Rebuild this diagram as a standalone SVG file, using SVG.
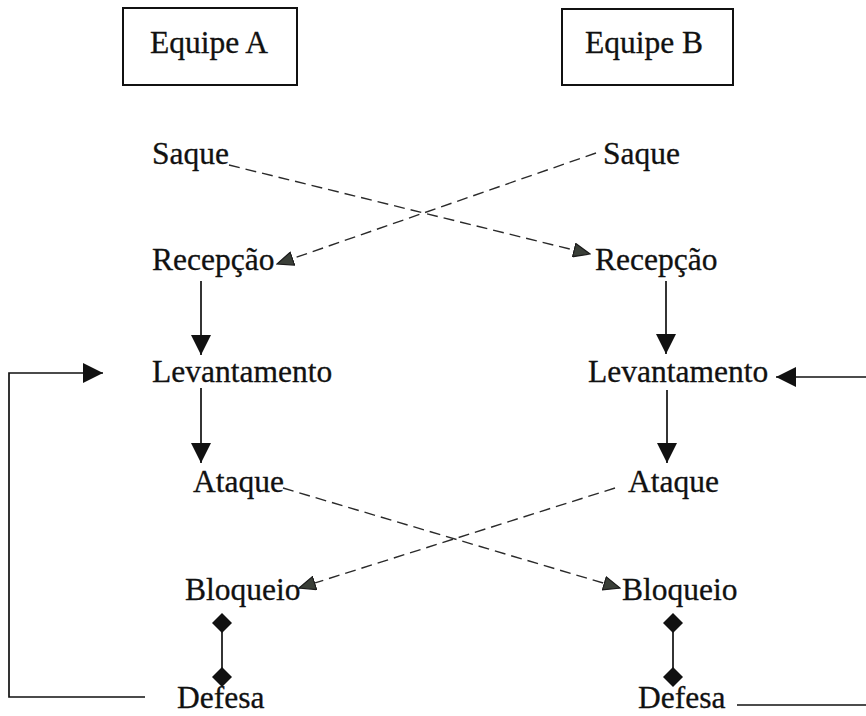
<svg xmlns="http://www.w3.org/2000/svg" width="866" height="716" viewBox="0 0 866 716">
<style>
text{font-family:"Liberation Serif","Times New Roman",serif;font-size:31.5px;fill:#111;stroke:#111;stroke-width:0.3}
.box{fill:#fff;stroke:#111;stroke-width:2}
.solid{stroke:#111;stroke-width:1.7;fill:none}
.dash{stroke:#2a2a2a;stroke-width:1.4;fill:none;stroke-dasharray:11 6}
</style>
<defs>
<marker id="arr" markerUnits="userSpaceOnUse" markerWidth="20" markerHeight="20" refX="20" refY="10" orient="auto"><path d="M0,0 L20,10 L0,20 z" fill="#111"/></marker>
<marker id="darr" markerUnits="userSpaceOnUse" markerWidth="18" markerHeight="15" refX="17" refY="7.5" orient="auto"><path d="M0.7,0.7 L17,7.5 L0.7,14.3 z" fill="#3a3f38" stroke="#1a1a1a" stroke-width="1.2"/></marker>
<marker id="dia" markerUnits="userSpaceOnUse" markerWidth="20" markerHeight="20" refX="10" refY="10" orient="auto"><path d="M0,10 L10,0 L20,10 L10,20 z" fill="#111"/></marker>
</defs>
<rect width="866" height="716" fill="#fff"/>
<g id="connectors">
<line class="dash" x1="229" y1="165" x2="590" y2="254" marker-end="url(#darr)"/>
<line class="dash" x1="596" y1="153" x2="277" y2="264" marker-end="url(#darr)"/>
<line class="dash" x1="283" y1="488" x2="620" y2="588" marker-end="url(#darr)"/>
<line class="dash" x1="615" y1="488" x2="299" y2="588" marker-end="url(#darr)"/>
<line class="solid" x1="201" y1="281" x2="201" y2="355" marker-end="url(#arr)"/>
<line class="solid" x1="201" y1="388" x2="201" y2="463" marker-end="url(#arr)"/>
<line class="solid" x1="666" y1="281" x2="666" y2="354" marker-end="url(#arr)"/>
<line class="solid" x1="667" y1="390" x2="667" y2="463" marker-end="url(#arr)"/>
<line class="solid" x1="222" y1="623" x2="222" y2="677" marker-start="url(#dia)" marker-end="url(#dia)"/>
<line class="solid" x1="673" y1="623" x2="673" y2="677" marker-start="url(#dia)" marker-end="url(#dia)"/>
<polyline class="solid" points="145,697 9,697 9,373 103,373" marker-end="url(#arr)"/>
<line class="solid" x1="866" y1="377" x2="776" y2="377" marker-end="url(#arr)"/>
<line class="solid" x1="737" y1="705" x2="866" y2="705"/>
</g>
<g id="equipeA"><rect class="box" x="123" y="8" width="174" height="77"/><text x="150" y="53">Equipe A</text></g>
<g id="equipeB"><rect class="box" x="562" y="9" width="171" height="76"/><text x="585" y="53">Equipe B</text></g>
<g id="saqueA"><text x="152" y="164">Saque</text></g>
<g id="recepcaoA"><text x="152" y="270">Recepção</text></g>
<g id="levantamentoA"><text x="152" y="382">Levantamento</text></g>
<g id="ataqueA"><text x="193" y="492">Ataque</text></g>
<g id="bloqueioA"><text x="185" y="600">Bloqueio</text></g>
<g id="defesaA"><text x="177" y="708">Defesa</text></g>
<g id="saqueB"><text x="603" y="164">Saque</text></g>
<g id="recepcaoB"><text x="595" y="270">Recepção</text></g>
<g id="levantamentoB"><text x="588" y="382">Levantamento</text></g>
<g id="ataqueB"><text x="628" y="492">Ataque</text></g>
<g id="bloqueioB"><text x="622" y="600">Bloqueio</text></g>
<g id="defesaB"><text x="638" y="708">Defesa</text></g>
</svg>
